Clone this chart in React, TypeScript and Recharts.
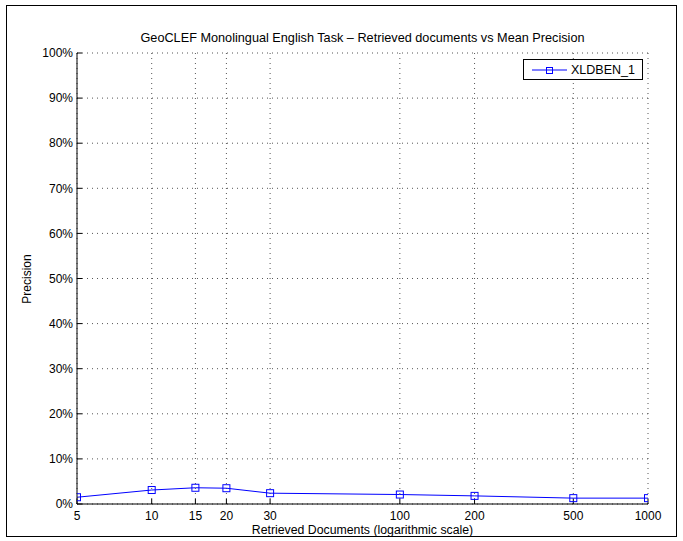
import { LineChart, Line, XAxis, YAxis, CartesianGrid } from "recharts";

const docs = [5, 10, 15, 20, 30, 100, 200, 500, 1000];
const precision = [1.5, 3.1, 3.6, 3.5, 2.4, 2.1, 1.8, 1.3, 1.3];
const yTicks = [0, 10, 20, 30, 40, 50, 60, 70, 80, 90, 100];
const seriesName = "XLDBEN_1";

const data = docs.map((d, i) => ({ docs: d, value: precision[i] }));

const FONT = "'Liberation Sans', Arial, sans-serif";
const BLUE = "#0000ff";

const SquareDot = (props: { cx?: number; cy?: number; index?: number }) => {
  const { cx, cy, index } = props;
  if (cx == null || cy == null) return null;
  return (
    <rect
      key={`dot-${index}`}
      x={cx - 3.5}
      y={cy - 3.5}
      width={7}
      height={7}
      fill="none"
      stroke={BLUE}
      strokeWidth={1}
    />
  );
};

const LegendBox = () => (
  <div
    style={{
      position: "absolute",
      left: 523,
      top: 59,
      width: 120,
      height: 21,
      border: "1px solid #000",
      background: "#fff",
      display: "flex",
      alignItems: "center",
      fontFamily: FONT,
      fontSize: 12.5,
      boxSizing: "border-box",
    }}
  >
    <svg width={45} height={18}>
      <line x1={8} y1={9} x2={43} y2={9} stroke={BLUE} strokeWidth={1} />
      <rect x={22.5} y={6.5} width={6} height={6} fill="none" stroke={BLUE} />
    </svg>
    <span style={{ marginLeft: 2 }}>{seriesName}</span>
  </div>
);

export default function App() {
  return (
    <div style={{ position: "absolute", left: 0, top: 0, width: 683, height: 541, background: "#fff" }}>
      <div
        style={{
          position: "absolute",
          left: 6,
          top: 5,
          width: 671,
          height: 532,
          border: "1px solid #000",
          boxSizing: "border-box",
        }}
      />
      <div
        style={{
          position: "absolute",
          left: 0,
          width: 725,
          top: 31,
          textAlign: "center",
          fontFamily: FONT,
          fontSize: 12.7,
        }}
      >
        GeoCLEF Monolingual English Task – Retrieved documents vs Mean Precision
      </div>
      <div
        style={{
          position: "absolute",
          left: 77,
          width: 571,
          top: 523,
          textAlign: "center",
          fontFamily: FONT,
          fontSize: 12.3,
        }}
      >
        Retrieved Documents (logarithmic scale)
      </div>
      <div
        style={{
          position: "absolute",
          left: 27,
          top: 279,
          transform: "translate(-50%, -50%) rotate(-90deg)",
          fontFamily: FONT,
          fontSize: 12,
          whiteSpace: "nowrap",
        }}
      >
        Precision
      </div>
      <div style={{ position: "absolute", left: 0, top: 0 }}>
        <LineChart
          width={683}
          height={541}
          data={data}
          margin={{ top: 53, right: 35, bottom: 0, left: 0 }}
        >
          <CartesianGrid stroke="#555" strokeDasharray="1 4" />
          <XAxis
            dataKey="docs"
            type="number"
            scale="log"
            domain={[5, 1000]}
            ticks={docs}
            interval={0}
            height={37}
            stroke="#000"
            tickSize={-5}
            tickMargin={12}
            tick={{ fill: "#000", fontFamily: FONT, fontSize: 12 }}
            allowDataOverflow
          />
          <XAxis
            xAxisId="top"
            dataKey="docs"
            type="number"
            scale="log"
            domain={[5, 1000]}
            ticks={docs}
            orientation="top"
            height={0}
            stroke="#000"
            tickSize={-5}
            tickFormatter={() => ""}
            allowDataOverflow
          />
          <YAxis
            type="number"
            domain={[0, 100]}
            ticks={yTicks}
            interval={0}
            width={77}
            stroke="#000"
            tickSize={-5}
            tickMargin={9}
            tickFormatter={(v: number) => `${v}%`}
            tick={{ fill: "#000", fontFamily: FONT, fontSize: 12 }}
          />
          <YAxis
            yAxisId="right"
            type="number"
            domain={[0, 100]}
            ticks={yTicks}
            orientation="right"
            width={0}
            stroke="#000"
            tickSize={-5}
            tickFormatter={() => ""}
          />
          <Line
            dataKey="value"
            stroke={BLUE}
            strokeWidth={1}
            dot={SquareDot}
            activeDot={false}
            isAnimationActive={false}
          />
        </LineChart>
      </div>
      <LegendBox />
    </div>
  );
}
